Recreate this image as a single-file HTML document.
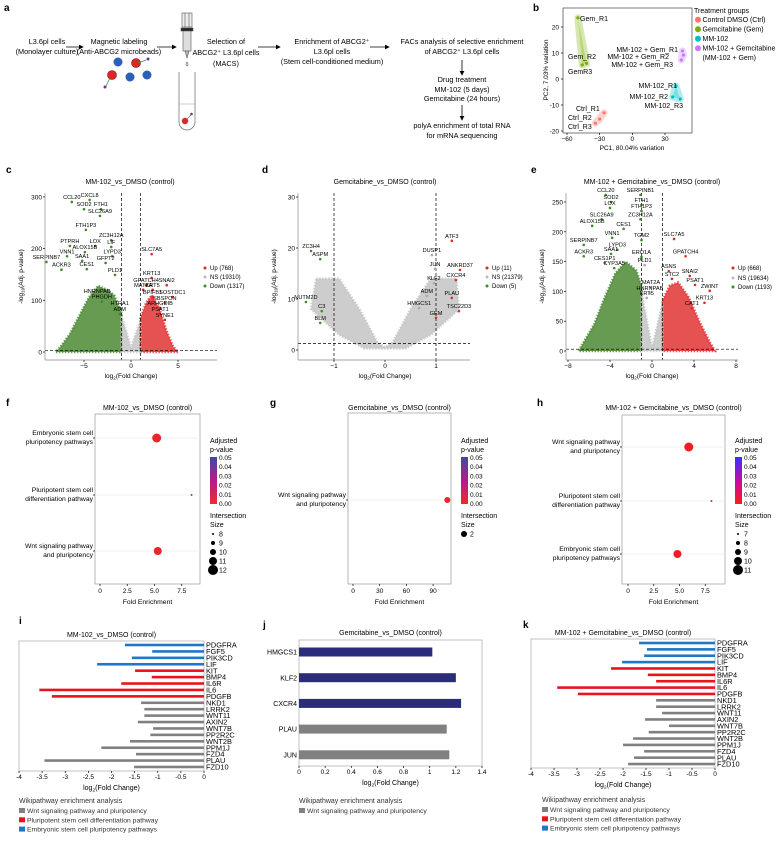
<!DOCTYPE html>
<html><head><meta charset="utf-8"><style>
html,body{margin:0;padding:0;background:#fff;}
svg{display:block;font-family:"Liberation Sans",Arial,sans-serif;}
</style></head><body>
<svg id="fig" xmlns="http://www.w3.org/2000/svg" width="780" height="858" viewBox="0 0 780 858">
<defs>
<linearGradient id="cbarA" x1="0" y1="0" x2="0" y2="1"><stop offset="0" stop-color="#3d4aa0"/><stop offset="0.5" stop-color="#b41c8c"/><stop offset="1" stop-color="#ee2a2e"/></linearGradient>
<linearGradient id="cbarB" x1="0" y1="0" x2="0" y2="1"><stop offset="0" stop-color="#3333ff"/><stop offset="0.5" stop-color="#c40aa8"/><stop offset="1" stop-color="#ff1a1a"/></linearGradient>
<marker id="arr" markerWidth="6" markerHeight="6" refX="5" refY="3" orient="auto"><path d="M0,0 L6,3 L0,6 z" fill="#000"/></marker>
</defs>
<g font-size="7.3" text-anchor="middle">
<text x="4" y="11" font-size="10" font-weight="bold" text-anchor="start">a</text>
<text x="47" y="44">L3.6pl cells</text>
<text x="47" y="54">(Monolayer culture)</text>
<line x1="66" y1="47" x2="83" y2="47" stroke="#000" stroke-width="0.8" marker-end="url(#arr)"/>
<text x="119" y="44">Magnetic labeling</text>
<text x="119" y="54">(Anti-ABCG2 microbeads)</text>
<line x1="157" y1="47" x2="176" y2="47" stroke="#000" stroke-width="0.8" marker-end="url(#arr)"/>
<circle cx="118" cy="62" r="4.5" fill="#2e5fb8"/>
<circle cx="130" cy="77" r="4.5" fill="#2e5fb8"/>
<circle cx="147" cy="75" r="4.5" fill="#2e5fb8"/>
<circle cx="136" cy="63" r="4.5" fill="#d42a2a" stroke="#a00" stroke-width="0.6"/>
<circle cx="112" cy="75" r="4.5" fill="#d42a2a" stroke="#a00" stroke-width="0.6"/>
<line x1="138" y1="63" x2="146" y2="60" stroke="#2a9a4a" stroke-width="0.8"/><circle cx="148" cy="59" r="1.5" fill="#7a2a9a"/>
<line x1="110" y1="78" x2="106" y2="86" stroke="#2a9a4a" stroke-width="0.8"/><circle cx="105" cy="87" r="1.5" fill="#7a2a9a"/>
<g stroke="#555" fill="#ddd" stroke-width="0.6">
<rect x="182" y="13" width="10" height="14" fill="#eee"/><line x1="185" y1="13" x2="185" y2="27"/><line x1="189" y1="13" x2="189" y2="27"/>
<rect x="181" y="28" width="12" height="3" fill="#222"/><rect x="183" y="31" width="8" height="20" fill="#ddd"/><path d="M185,51 L187,58 L189,51z" fill="#bbb"/>
<path d="M187,62 q-2,3 0,4 q2,-1 0,-4z" fill="none"/>
</g>
<g>
<path d="M179,72 L179,122 a8,8 0 0 0 16,0 L195,72" fill="#fff" stroke="#666" stroke-width="0.7"/>
<line x1="179" y1="104" x2="195" y2="104" stroke="#999" stroke-width="0.5"/>
<circle cx="185" cy="121" r="3.2" fill="#d42a2a"/><line x1="187" y1="119" x2="191" y2="115" stroke="#2a9a4a" stroke-width="0.7"/><circle cx="191.5" cy="114" r="1.3" fill="#7a2a9a"/>
</g>
<text x="226" y="44">Selection of</text>
<text x="226" y="55">ABCG2⁺ L3.6pl cells</text>
<text x="226" y="66">(MACS)</text>
<line x1="258" y1="47" x2="280" y2="47" stroke="#000" stroke-width="0.8" marker-end="url(#arr)"/>
<text x="332" y="44">Enrichment of ABCG2⁺</text>
<text x="332" y="54">L3.6pl cells</text>
<text x="332" y="64">(Stem cell-conditioned medium)</text>
<line x1="370" y1="47" x2="389" y2="47" stroke="#000" stroke-width="0.8" marker-end="url(#arr)"/>
<text x="462" y="44">FACs analysis of selective enrichment</text>
<text x="462" y="54">of ABCG2⁺ L3.6pl cells</text>
<line x1="462" y1="60" x2="462" y2="75" stroke="#000" stroke-width="0.8" marker-end="url(#arr)"/>
<text x="462" y="82">Drug treatment</text>
<text x="462" y="92">MM-102 (5 days)</text>
<text x="462" y="101">Gemcitabine (24 hours)</text>
<line x1="462" y1="105" x2="462" y2="120" stroke="#000" stroke-width="0.8" marker-end="url(#arr)"/>
<text x="462" y="128">polyA enrichment of total RNA</text>
<text x="462" y="138">for mRNA sequencing</text>
</g>
<g id="dyn"></g>
</svg>
<script>
// ---------- data ----------
const pcaLabels=["Ctrl_R1","Ctrl_R2","Ctrl_R3","Gem_R1","Gem_R2","GemR3","MM-102_R1","MM-102_R2","MM-102_R3","MM-102 + Gem_R1","MM-102 + Gem_R2","MM-102 + Gem_R3"];
const pcaPC1=[-26,-30,-34,-50,-46,-42,40,37,44,46,47,45];
const pcaPC2=[-13,-15.4,-17,23.5,5.4,6,-2.7,-6.9,-7.7,10.8,9.2,7.3];
const pcaGroup=[0,0,0,1,1,1,2,2,2,3,3,3];
const pcaGroupNames=["Control DMSO (Ctrl)","Gemcitabine (Gem)","MM-102","MM-102 + Gemcitabine"];
const pcaXTicks=[-60,-30,0,30];
const pcaYTicks=[-20,-10,0,10,20];
// label layout (pixel placement, not data)
const pcaLabelLayout=[[576,111,"start"],[568,120,"start"],[568,129,"start"],[580,21,"start"],[568,59,"start"],[568,74,"start"],[677,88,"end"],[668,99,"end"],[683,108,"end"],[678,52,"end"],[669,59,"end"],[673,67,"end"]];

const cGenes=["CCL20","CXCL8","SOD2","FTH1","SLC26A9","FTH1P3","ZC3H12A","PTPRH","LOX","LIF","VNN1","ALOX15B","LYPD3","SERPINB7","SAA1","GFPT2","ACKR3","CES1","PLD1","SLC7A5","KRT13","GPATCH4","SNAI2","MAT2A","KRT5","HNRNPAB","BPIFB1","SOSTDC1","PHGDH","SBSPON","ARHGDIB","HTRA1","ADM","PSAT1","SYNE1"];
const cFC=[-6.3,-4.4,-5.0,-3.2,-3.3,-4.8,-2.1,-6.5,-3.8,-2.1,-6.8,-4.9,-2.0,-9.0,-5.2,-2.7,-7.4,-4.7,-1.7,2.2,2.2,1.6,3.8,1.3,2.3,-3.6,2.3,4.4,-3.1,3.6,3.1,-1.2,-1.2,3.1,3.6];
const cP=[296,300,282,282,269,242,222,211,211,209,191,199,191,180,182,178,165,166,155,195,149,135,135,126,126,114,112,112,103,101,91,91,79,79,68];
const cXTicks=[-5,0,5];
const cYTicks=[0,100,200,300];

const dGenes=["ZC3H4","ASPM","NUTM2D","C3","BLM","ATF3","DUSP1","JUN","ANKRD37","CXCR4","KLF2","ADM","PLAU","HMGCS1","TSC22D3","GEM"];
const dFC=[-1.45,-1.27,-1.55,-1.24,-1.27,1.31,0.92,0.98,1.47,1.39,0.96,0.82,1.31,0.67,1.45,1.0];
const dP=[20,18.4,10,8.2,5.9,22,19.2,16.5,16.3,14.3,13.7,11.2,10.8,8.8,8.2,6.9];
const dXTicks=[-1,0,1];
const dYTicks=[0,10,20,30];

const eGenes=["CCL20","SERPINB1","SOD2","FTH1","LOX","FTH1P3","SLC26A9","ZC3H12A","ALOX15B","CES1","VNN1","TGM2","SLC7A5","SERPINB7","LYPD3","ACKR3","SAA1","ERO1A","GPATCH4","CES1P1","PLD1","CYP3A5","ASNS","SNAI2","STC2","PSAT1","MAT2A","ZWINT","HNRNPAB","KRT5","KRT13","CAT1"];
const eFC=[-4.4,-1.1,-3.9,-1.0,-4.0,-1.0,-4.8,-1.1,-5.7,-2.7,-3.8,-1.0,2.1,-6.5,-3.3,-6.5,-3.9,-1.0,3.2,-4.5,-0.7,-3.6,1.6,3.6,1.9,4.1,-0.1,5.5,-0.2,-0.5,5.0,3.8];
const eP=[267,267,255,250,245,240,226,226,215,210,195,191,193,183,175,164,168,163,164,153,149,144,139,131,126,116,112,106,102,94,86,77];
const eXTicks=[-8,-4,0,4,8];
const eYTicks=[0,50,100,150,200,250];

const fTerms=[["Embryonic stem cell","pluripotency pathways"],["Pluripotent stem cell","differentiation pathway"],["Wnt signaling pathway","and pluripotency"]];
const fFold=[5.2,8.4,5.3];
const fSize=[11.5,8,11];
const fXTicks=[0,2.5,5.0,7.5];
const fXTickLabels=["0","2.5","5.0","7.5"];
const fSizeLegend=[8,9,10,11,12];

const gTerms=[["Wnt signaling pathway","and pluripotency"]];
const gFold=[106];
const gSize=[2];
const gXTicks=[0,30,60,90];
const gXTickLabels=["0","30","60","90"];

const hTerms=[["Wnt signaling pathway","and pluripotency"],["Pluripotent stem cell","differentiation pathway"],["Embryonic stem cell","pluripotency pathways"]];
const hFold=[5.9,8.1,4.8];
const hSize=[10.5,7,10];
const hXTicks=[0,2.5,5.0,7.5];
const hXTickLabels=["0","2.5","5.0","7.5"];
const hSizeLegend=[7,8,9,10,11];
const pvTicks=["0.05","0.04","0.03","0.02","0.01","0.00"];

const barGenes=["PDGFRA","FGF5","PIK3CD","LIF","KIT","BMP4","IL6R","IL6","PDGFB","NKD1","LRRK2","WNT11","AXIN2","WNT7B","PP2R2C","WNT2B","PPM1J","FZD4","PLAU","FZD10"];
const barCats=[2,2,2,2,1,1,1,1,1,0,0,0,0,0,0,0,0,0,0,0];
const iValues=[-1.71,-1.12,-1.56,-2.31,-1.49,-1.13,-1.79,-3.56,-3.29,-1.36,-1.29,-1.29,-1.43,-1.10,-1.16,-1.60,-2.22,-1.47,-3.45,-1.51];
const kValues=[-1.65,-1.48,-1.54,-2.02,-2.26,-1.46,-1.28,-3.43,-2.98,-1.28,-1.28,-1.15,-1.52,-1.0,-1.44,-1.78,-2.0,-1.54,-1.76,-1.89];
const barXTicks=[-4,-3.5,-3,-2.5,-2,-1.5,-1,-0.5,0];
const jGenes=["HMGCS1","KLF2","CXCR4","PLAU","JUN"];
const jValues=[1.02,1.2,1.24,1.13,1.15];
const jCats=[3,3,3,0,0];
const jXTicks=[0,0.2,0.4,0.6,0.8,1,1.2,1.4];
const catColors=["#808080","#e8141c","#1f77c8","#2b2d7c"];
const catNames=["Wnt signaling pathway and pluripotency","Pluripotent stem cell differentiation pathway","Embryonic stem cell pluripotency pathways"];

// ---------- helpers ----------
const NS="http://www.w3.org/2000/svg";
const root=document.getElementById("dyn");
function mk(tag,attrs,name){
  const el=document.createElementNS(NS,tag);
  for(const k in attrs) el.setAttribute(k,attrs[k]);
  
  
  root.appendChild(el);
  return el;
}
function tx(x,y,s,size,anchor,name,extra){
  const el=mk("text",Object.assign({x:x,y:y,"font-size":size,"text-anchor":anchor||"start",fill:"#000"},extra||{}),name);
  el.textContent=s;
  return el;
}
function line(x1,y1,x2,y2,name,extra){return mk("line",Object.assign({x1:x1,y1:y1,x2:x2,y2:y2,stroke:"#000","stroke-width":0.7},extra||{}),name);}
function lin(d0,d1,r0,r1){return v=>r0+(v-d0)*(r1-r0)/(d1-d0);}

// ---------- panel b: PCA ----------
tx(533,11,"b",10,"start","panel-label-b",{"font-weight":"bold"});
const pcaCol=["#f8766d","#7cae00","#00bfc4","#c77cff"];
const bx=lin(-60,30,567,665), by=lin(0,10,79,53);
mk("rect",{x:563,y:8,width:129,height:125,fill:"none",stroke:"#444","stroke-width":0.7},"pca-plot-frame");
for(let g=0;g<4;g++){
  const pts=[];
  for(let i=0;i<pcaLabels.length;i++) if(pcaGroup[i]===g) pts.push(bx(pcaPC1[i])+","+by(pcaPC2[i]));
  mk("polygon",{points:pts.join(" "),fill:pcaCol[g],stroke:pcaCol[g],"stroke-width":7,"stroke-linejoin":"round","fill-opacity":0.3,"stroke-opacity":0.3},"pca-hull-"+g);
}
for(let i=0;i<pcaLabels.length;i++){
  mk("circle",{cx:bx(pcaPC1[i]),cy:by(pcaPC2[i]),r:1.6,fill:pcaCol[pcaGroup[i]]},"pca-point");
  const L=pcaLabelLayout[i];
  tx(L[0],L[1],pcaLabels[i],7,L[2],"pca-point-label");
}
pcaXTicks.forEach(v=>{line(bx(v),133,bx(v),135,"pca-x-tick");tx(bx(v),141,String(v).replace("-","−"),6.5,"middle","pca-x-tick-label");});
pcaYTicks.forEach(v=>{line(561,by(v),563,by(v),"pca-y-tick");tx(559,by(v)+2.5,String(v),6.5,"end","pca-y-tick-label");});
tx(632,150,"PC1, 80.04% variation",6.5,"middle","pca-x-axis-title");
tx(548,70,"PC2, 7.03% variation",6.5,"middle","pca-y-axis-title",{transform:"rotate(-90 548 70)"});
tx(694,13,"Treatment groups",7,"start","pca-legend-title");
const legY=[22,31.5,41,50.5];
for(let g=0;g<4;g++){mk("circle",{cx:698,cy:legY[g]-2.3,r:3,fill:pcaCol[g]},"pca-legend-swatch");tx(702.5,legY[g],pcaGroupNames[g],7,"start","pca-legend-entry");}
tx(702.5,60,"(MM-102 + Gem)",7,"start","pca-legend-entry");

// ---------- volcano helper ----------
function volcano(o){
  tx(o.lx,173,o.letter,10,"start","panel-label-"+o.letter,{"font-weight":"bold"});
  tx(o.tcx,184,o.title,7,"middle","volcano-title");
  const X=lin(0,1,o.x0,o.x0+o.sx), Y=lin(0,1,o.y0,o.y0-o.sy);
  o.clouds.forEach(c=>mk("polygon",{points:c[0].map(p=>X(p[0])+","+Y(p[1])).join(" "),fill:c[1],"fill-opacity":0.85},c[2]));
  o.clouds.forEach(c=>{mk("polygon",{points:c[0].map(p=>X(p[0])+","+Y(p[1])).join(" "),fill:"none",stroke:c[1],"stroke-width":2.5,"stroke-dasharray":"1.5 1.5","stroke-opacity":0.8},c[2]+"-edge");});
  line(X(-1),o.top,X(-1),o.bottom,"fc-threshold-line",{"stroke-dasharray":"3 2","stroke-width":0.7});
  line(X(1),o.top,X(1),o.bottom,"fc-threshold-line",{"stroke-dasharray":"3 2","stroke-width":0.7});
  line(o.left,Y(o.hline),o.right,Y(o.hline),"p-threshold-line",{"stroke-dasharray":"3 2","stroke-width":0.7});
  for(let i=0;i<o.genes.length;i++){
    const col=o.fc[i]<=-1?"#3f8a2a":(o.fc[i]>=1?"#e02828":"#aaaaaa");
    mk("circle",{cx:X(o.fc[i]),cy:Y(o.p[i])+3,r:1.3,fill:col},"volcano-point");
    tx(X(o.fc[i]),Y(o.p[i]),o.genes[i],5.6,"middle","gene-label");
  }
  line(o.left,o.top,o.left,o.bottom,"volcano-y-axis",{stroke:"#888"});
  line(o.left,o.bottom,o.right,o.bottom,"volcano-x-axis",{stroke:"#888"});
  o.xt.forEach(v=>{line(X(v),o.bottom,X(v),o.bottom+2,"volcano-x-tick");tx(X(v),o.bottom+8,String(v).replace("-","−"),6.5,"middle","volcano-x-tick-label");});
  o.yt.forEach(v=>{line(o.left-2,Y(v),o.left,Y(v),"volcano-y-tick");tx(o.left-3,Y(v)+2.5,String(v),6.5,"end","volcano-y-tick-label");});
  const xl=tx(X(0),o.bottom+18,"log",6.5,"middle","volcano-x-axis-title");
  xl.innerHTML='log<tspan font-size="4.5" dy="1.5">2</tspan><tspan dy="-1.5">(Fold Change)</tspan>';
  const yx=o.left-22, yc=(o.top+o.bottom)/2;
  const yl=tx(yx,yc,"",6.5,"middle","volcano-y-axis-title",{transform:"rotate(-90 "+yx+" "+yc+")"});
  yl.innerHTML='-log<tspan font-size="4.5" dy="1.5">10</tspan><tspan dy="-1.5">(Adj. p-value)</tspan>';
  const cols=["#e02828","#bbbbbb","#3f8a2a"];
  for(let k=0;k<3;k++){mk("circle",{cx:o.legx,cy:o.legy[k]-2,r:1.5,fill:cols[k]},"volcano-legend-swatch");tx(o.legx+5,o.legy[k],o.leg[k],6,"start","volcano-legend-entry");}
}
volcano({letter:"c",lx:6,tcx:130,title:"MM-102_vs_DMSO (control)",x0:131,sx:9.4,y0:352,sy:0.517,left:45,right:217,top:193,bottom:360,hline:3,
  clouds:[[[[-1,0],[-1,75],[-1.8,110],[-2.5,120],[-3.5,128],[-4.5,105],[-5.5,70],[-6.5,35],[-7.5,10],[-8,0]],"#4b8a33","cloud-down"],
          [[[1,0],[1,65],[1.6,95],[2.2,110],[3,85],[3.8,40],[4.5,10],[5,0]],"#e23232","cloud-up"],
          [[[-1,0],[-1,70],[-0.5,40],[0,8],[0.5,35],[1,60],[1,0]],"#c4c4c4","cloud-ns"]],
  genes:cGenes,fc:cFC,p:cP,xt:cXTicks,yt:cYTicks,legx:205,legy:[270,279,288],leg:["Up (768)","NS (19310)","Down (1317)"]});
volcano({letter:"d",lx:262,tcx:385,title:"Gemcitabine_vs_DMSO (control)",x0:385,sx:51,y0:350,sy:5.1,left:298,right:470,top:193,bottom:360,hline:1.3,
  clouds:[[[[-1.35,14],[-0.9,14],[-0.5,8],[-0.15,1.5],[0,0.5],[0.15,1.5],[0.5,8],[0.9,14],[1.4,14],[1.45,8],[0.9,3],[0.4,0.3],[-0.4,0.3],[-0.9,3],[-1.45,8]],"#c4c4c4","cloud-ns"]],
  genes:dGenes,fc:dFC,p:dP,xt:dXTicks,yt:dYTicks,legx:487,legy:[270,279,288],leg:["Up (11)","NS (21379)","Down (5)"]});
volcano({letter:"e",lx:531,tcx:652,title:"MM-102 + Gemcitabine_vs_DMSO (control)",x0:652,sx:10.5,y0:351,sy:0.596,left:566,right:738,top:193,bottom:360,hline:3,
  clouds:[[[[-1,0],[-1,110],[-1.5,135],[-2.5,150],[-3.5,130],[-4.5,90],[-5.5,45],[-6.5,15],[-7,0]],"#4b8a33","cloud-down"],
          [[[1,0],[1,85],[1.7,110],[2.5,115],[3.5,90],[4.5,50],[5.5,15],[6,0]],"#e23232","cloud-up"],
          [[[-1,0],[-1,100],[0,5],[1,80],[1,0]],"#c4c4c4","cloud-ns"]],
  genes:eGenes,fc:eFC,p:eP,xt:eXTicks,yt:eYTicks,legx:733,legy:[270,280,289],leg:["Up (668)","NS (19634)","Down (1193)"]});

// ---------- dot plots ----------
function dotplot(o){
  tx(o.lx,406,o.letter,10,"start","panel-label-"+o.letter,{"font-weight":"bold"});
  tx((o.left+o.right)/2,410,o.title,7,"middle","enrichment-title");
  mk("rect",{x:o.left,y:o.top,width:o.right-o.left,height:584-o.top,fill:"#fff",stroke:"#999","stroke-width":0.7},"enrichment-plot-frame");
  const X=lin(0,1,o.x0,o.x0+o.sx);
  const rr=lin(o.smin,o.smax,1,5);
  for(let i=0;i<o.terms.length;i++){
    const y=o.rows[i];
    line(o.left,y,o.right,y,"row-gridline",{stroke:"#eee","stroke-width":0.8});
    line(o.left-2,y,o.left,y,"y-tick");
    tx(o.left-2,y-3,o.terms[i][0],6.8,"end","pathway-label");
    tx(o.left-2,y+6,o.terms[i][1],6.8,"end","pathway-label");
    mk("circle",{cx:X(o.fold[i]),cy:y,r:rr(o.size[i]),fill:o.dot},"enrichment-dot");
  }
  o.xt.forEach((v,k)=>{line(X(v),584,X(v),586,"x-tick");tx(X(v),593,o.xtl[k],6.5,"middle","x-tick-label");});
  tx((o.left+o.right)/2,604,"Fold Enrichment",6.8,"middle","x-axis-title");
  const L=o.legx;
  tx(L,443,"Adjusted",7,"start","legend-title");
  tx(L,452,"p-value",7,"start","legend-title");
  mk("rect",{x:L,y:457,width:7,height:47,fill:o.grad},"pvalue-colorbar");
  pvTicks.forEach((s,k)=>tx(L+9,460+k*9.2,s,6.5,"start","colorbar-tick-label"));
  tx(L,518,"Intersection",7,"start","legend-title");
  tx(L,527,"Size",7,"start","legend-title");
  o.legSizes.forEach((s,k)=>{mk("circle",{cx:L+3,cy:534+k*9,r:o.legSizes.length>1?rr(s):3,fill:"#000"},"size-legend-dot");tx(L+9,536.5+k*9,String(s),7,"start","size-legend-label");});
}
dotplot({letter:"f",lx:6,title:"MM-102_vs_DMSO (control)",left:95,right:200,top:414,x0:100,sx:10.9,terms:fTerms,fold:fFold,size:fSize,rows:[438,495,551],smin:8,smax:12,xt:fXTicks,xtl:fXTickLabels,dot:"#e8262c",legx:210,grad:"url(#cbarA)",legSizes:fSizeLegend});
dotplot({letter:"g",lx:270,title:"Gemcitabine_vs_DMSO (control)",left:348,right:451,top:413,x0:353,sx:0.89,terms:gTerms,fold:gFold,size:gSize,rows:[500],smin:1,smax:3,xt:gXTicks,xtl:gXTickLabels,dot:"#e8262c",legx:461,grad:"url(#cbarA)",legSizes:[2]});
dotplot({letter:"h",lx:537,title:"MM-102 + Gemcitabine_vs_DMSO (control)",left:622,right:725,top:415,x0:628,sx:10.3,terms:hTerms,fold:hFold,size:hSize,rows:[447,501,554],smin:7,smax:11,xt:hXTicks,xtl:hXTickLabels,dot:"#f01c24",legx:735,grad:"url(#cbarB)",legSizes:hSizeLegend});

// ---------- bar charts ----------
function hbar(o){
  tx(o.lx,o.ly,o.letter,10,"start","panel-label-"+o.letter,{"font-weight":"bold"});
  tx((o.left+o.right)/2,o.ty,o.title,7,"middle","bar-chart-title");
  mk("rect",{x:o.left,y:o.top,width:o.right-o.left,height:o.bottom-o.top,fill:"none",stroke:"#aaa","stroke-width":0.7},"bar-plot-frame");
  const X=lin(o.d0,o.d1,o.left,o.right);
  const n=o.genes.length;
  for(let i=0;i<n;i++){
    const y=o.y0+i*o.step, v=o.values[i];
    const x1=X(Math.min(0,v)), x2=X(Math.max(0,v));
    mk("rect",{x:x1,y:y-o.bh/2,width:x2-x1,height:o.bh,fill:catColors[o.cats[i]]},"bar-"+o.genes[i].toLowerCase());
    if(o.labelRight) tx(o.right+2,y+2.6,o.genes[i],7.4,"start","bar-gene-label");
    else tx(o.left-2,y+2.6,o.genes[i],7,"end","bar-gene-label");
  }
  o.xt.forEach(v=>{line(X(v),o.bottom,X(v),o.bottom+2,"x-tick");tx(X(v),o.bottom+8,String(v),6.5,"middle","x-tick-label");});
  const xl=tx((o.left+o.right)/2,o.bottom+19,"",7,"middle","x-axis-title");
  xl.innerHTML='log<tspan font-size="4.8" dy="1.5">2</tspan><tspan dy="-1.5">(Fold Change)</tspan>';
  tx(o.legx,o.legy,"Wikipathway enrichment analysis",7,"start","legend-title",{fill:"#333"});
  o.legCats.forEach((c,k)=>{mk("rect",{x:o.legx,y:o.legy+5+k*9.3,width:6,height:5,fill:catColors[c]},"legend-swatch");tx(o.legx+8,o.legy+10+k*9.3,catNames[c],6.8,"start","legend-entry",{fill:"#333"});});
}
hbar({letter:"i",lx:19,ly:624,title:"MM-102_vs_DMSO (control)",ty:637,left:19,right:204,top:641,bottom:771,d0:-4,d1:0,genes:barGenes,values:iValues,cats:barCats,y0:645,step:6.42,bh:2.6,labelRight:true,xt:barXTicks,legx:19,legy:803,legCats:[0,1,2]});
hbar({letter:"j",lx:263,ly:628,title:"Gemcitabine_vs_DMSO (control)",ty:635,left:299,right:482,top:640,bottom:766,d0:0,d1:1.4,genes:jGenes,values:jValues,cats:jCats,y0:652,step:25.7,bh:9,labelRight:false,xt:jXTicks,legx:299,legy:803,legCats:[0]});
hbar({letter:"k",lx:523,ly:628,title:"MM-102 + Gemcitabine_vs_DMSO (control)",ty:635,left:531,right:715,top:639,bottom:768,d0:-4,d1:0,genes:barGenes,values:kValues,cats:barCats,y0:643,step:6.37,bh:2.6,labelRight:true,xt:barXTicks,legx:542,legy:802,legCats:[0,1,2]});
</script>
</body></html>
